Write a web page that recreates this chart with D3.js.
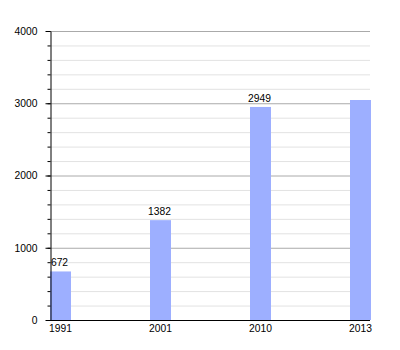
<!DOCTYPE html>
<html><head><meta charset="utf-8">
<script src="https://cdn.jsdelivr.net/npm/d3@7"></script>
<style>body{margin:0;background:#fff}svg{display:block}text{font-family:"Liberation Sans",Arial,sans-serif}</style>
</head><body><svg id="c" width="400" height="350"></svg>
<script>
const years = ["1991","2001","2010","2013"];
const population = [672,1382,2949,3045];
const showLabel = [true,true,true,false];
const majorTicks = [0,1000,2000,3000,4000];
const minorTicks = d3.range(0,4001,200);

(function(){
const svg = d3.select("#c");
const mLeft = 50, mRight = 370, mTop = 31, mBottom = 320;
const y = d3.scaleLinear().domain([0,4000]).range([mBottom, mTop]);
const x = d3.scaleBand().domain(years).range([mLeft, mLeft + 400]).padding(0);
const bw = 21;

// minor gridlines
svg.append("g").selectAll("line").data(minorTicks.filter(v => v % 1000 !== 0)).join("line")
  .attr("x1", mLeft).attr("x2", mRight).attr("y1", d => y(d)+0.5).attr("y2", d => y(d)+0.5)
  .attr("stroke", "#e2e2e2").attr("stroke-width", 1);
// major gridlines
svg.append("g").selectAll("line").data(majorTicks.filter(v => v > 0)).join("line")
  .attr("x1", mLeft).attr("x2", mRight).attr("y1", d => y(d)+0.5).attr("y2", d => y(d)+0.5)
  .attr("stroke", "#aaaaaa").attr("stroke-width", 1);

// bars
svg.append("g").selectAll("rect").data(population).join("rect")
  .attr("x", (d,i) => x(years[i]))
  .attr("width", bw)
  .attr("y", d => y(d))
  .attr("height", d => mBottom - y(d))
  .attr("fill", "#9dafff");

// value labels
svg.append("g").selectAll("text").data(population.map((v,i)=>({v,i})).filter(d => showLabel[d.i])).join("text")
  .attr("x", d => x(years[d.i]) + bw/2 - 1)
  .attr("y", d => y(d.v) - 5)
  .attr("text-anchor", "middle")
  .attr("font-size", 10.3).attr("fill", "#000")
  .text(d => d.v);

// y axis minor ticks
const yMinor = svg.append("g").attr("transform", `translate(${mLeft+0.5},0)`)
  .call(d3.axisLeft(y).tickValues(minorTicks).tickSize(3).tickFormat(""));
yMinor.select(".domain").remove();
yMinor.selectAll("line").attr("stroke", "#000");
// y axis major
const yAx = svg.append("g").attr("transform", `translate(${mLeft+0.5},0)`)
  .call(d3.axisLeft(y).tickValues(majorTicks).tickSize(5).tickPadding(8).tickSizeOuter(0).tickFormat(d3.format("d")));
yAx.selectAll("text").attr("font-size", 10.3).attr("fill", "#000").style("font-family", '"Liberation Sans",Arial,sans-serif');
yAx.selectAll("line").attr("stroke", "#000");
yAx.select(".domain").attr("stroke", "#000");

// x axis
svg.append("line").attr("x1", mLeft).attr("x2", mRight).attr("y1", mBottom+0.5).attr("y2", mBottom+0.5).attr("stroke", "#000");
svg.append("g").selectAll("text").data(years).join("text")
  .attr("x", d => x(d) + bw/2)
  .attr("y", mBottom + 12)
  .attr("text-anchor", "middle")
  .attr("font-size", 10.3).attr("fill", "#000")
  .text(d => d);
})();
</script></body></html>
